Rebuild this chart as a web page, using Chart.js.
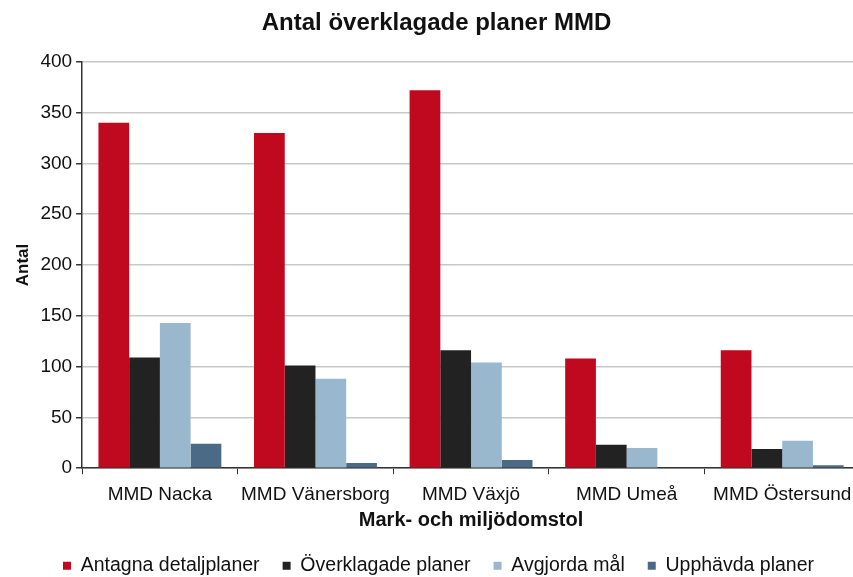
<!DOCTYPE html>
<html>
<head>
<meta charset="utf-8">
<script src="https://cdn.jsdelivr.net/npm/chart.js@4/dist/chart.umd.min.js"></script>
<style>
  html, body { margin: 0; padding: 0; background: #fff; overflow: hidden; }
  #wrap { width: 870px; height: 577px; }
</style>
</head>
<body>
<div id="wrap"><canvas id="chart"></canvas></div>
<script>
    'use strict';

    const categories = ['MMD Nacka', 'MMD Vänersborg', 'MMD Växjö', 'MMD Umeå', 'MMD Östersund'];
    const antagna = [340, 330, 372, 108, 116];
    const overklagade = [109, 101, 116, 23, 19];
    const avgjorda = [143, 88, 104, 20, 27];
    const upphavda = [24, 5, 8, 0, 3];
    const yTicks = [0, 50, 100, 150, 200, 250, 300, 350, 400];

    const font = 'Liberation Sans, Arial, sans-serif';

    // nudge the legend so it sits where the original has it
    const placeLegend = {
        id: 'placeLegend',
        afterLayout(chart) {
            const lg = chart.legend;
            lg.left += 2;
            lg.right += 2;
            lg.top -= 2;
            lg.bottom = chart.height;
            lg.height = lg.bottom - lg.top;
        }
    };

    new Chart(document.getElementById('chart'), {
        type: 'bar',
        data: {
            labels: categories,
            datasets: [
                { label: 'Antagna detaljplaner', data: antagna, backgroundColor: '#c0091f' },
                { label: 'Överklagade planer', data: overklagade, backgroundColor: '#222222' },
                { label: 'Avgjorda mål', data: avgjorda, backgroundColor: '#9ab8cd' },
                { label: 'Upphävda planer', data: upphavda, backgroundColor: '#4a6a85' }
            ]
        },
        options: {
            responsive: true,
            maintainAspectRatio: false,
            animation: false,
            layout: { padding: { left: 13, right: 10, top: 5, bottom: 2 } },
            datasets: { bar: { categoryPercentage: 0.79, barPercentage: 1.0 } },
            plugins: {
                title: {
                    display: true,
                    text: 'Antal överklagade planer MMD',
                    color: '#111',
                    font: { family: font, size: 24, weight: 'bold' },
                    padding: { top: 4, bottom: 24 }
                },
                legend: {
                    position: 'bottom',
                    maxHeight: 40,
                    labels: {
                        boxWidth: 8,
                        boxHeight: 8,
                        padding: 23,
                        color: '#111',
                        font: { family: font, size: 19.5 }
                    }
                },
                tooltip: { enabled: false }
            },
            scales: {
                x: {
                    grid: { display: true, drawOnChartArea: false, offset: true, tickLength: 6, color: '#333' },
                    border: { color: '#333', width: 1.5 },
                    ticks: { color: '#111', font: { family: font, size: 19 }, padding: 9 },
                    title: {
                        display: true,
                        text: 'Mark- och miljödomstol',
                        color: '#111',
                        font: { family: font, size: 20, weight: 'bold' },
                        padding: { top: -7, bottom: 3 }
                    }
                },
                y: {
                    min: 0,
                    max: 400,
                    afterBuildTicks(axis) { axis.ticks = yTicks.map(v => ({ value: v })); },
                    grid: { color: '#c8c8c8', lineWidth: 1.5, tickLength: 6, tickColor: '#333' },
                    border: { color: '#333', width: 1.5 },
                    ticks: { color: '#111', font: { family: font, size: 19 }, padding: 4 },
                    title: {
                        display: true,
                        text: 'Antal',
                        color: '#111',
                        font: { family: font, size: 17, weight: 'bold' },
                        padding: { top: 0, bottom: 3 }
                    }
                }
            }
        },
        plugins: [placeLegend]
    });
</script>
</body>
</html>
